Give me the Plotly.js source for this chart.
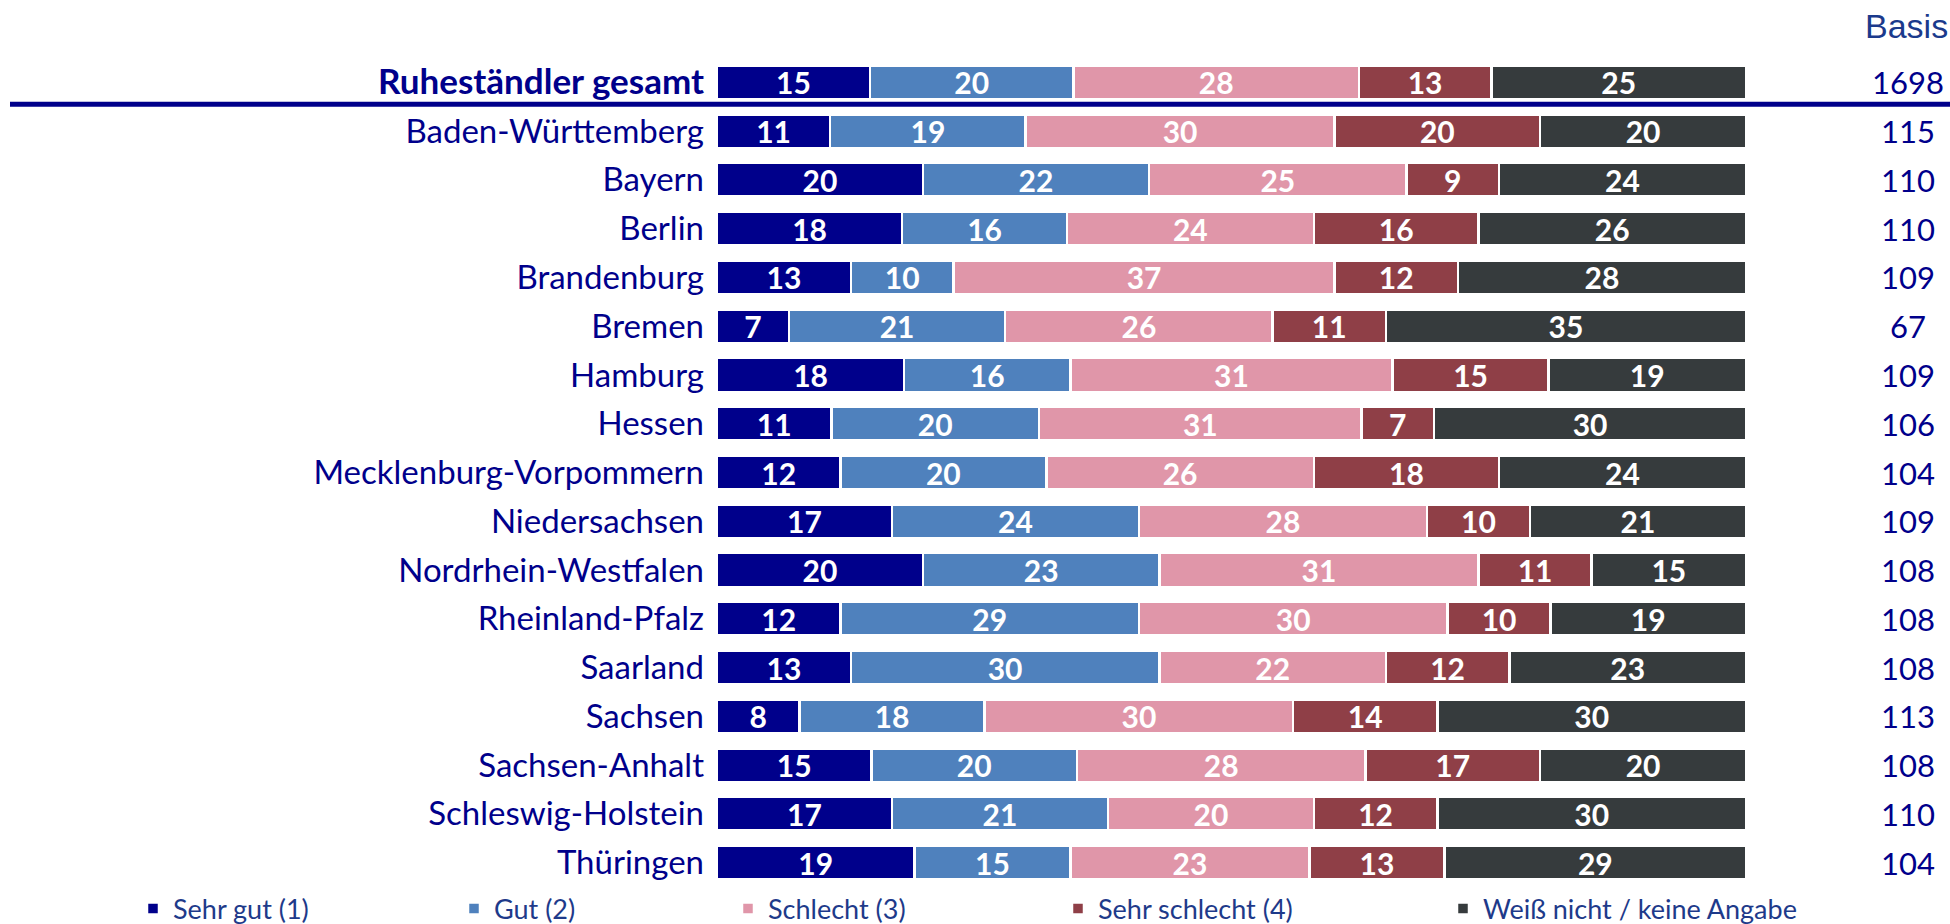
<!DOCTYPE html>
<html>
<head>
<meta charset="utf-8">
<script src="https://cdn.plot.ly/plotly-3.0.1.min.js"></script>
<style>html,body{margin:0;padding:0;background:#fff;}#chart{width:1950px;height:924px;}</style>
</head>
<body>
<div id="chart"></div>
<script>
const categories = ["Ruheständler gesamt","Baden-Württemberg","Bayern","Berlin","Brandenburg","Bremen","Hamburg","Hessen","Mecklenburg-Vorpommern","Niedersachsen","Nordrhein-Westfalen","Rheinland-Pfalz","Saarland","Sachsen","Sachsen-Anhalt","Schleswig-Holstein","Thüringen"];
const sehrGut     = [15,11,20,18,13, 7,18,11,12,17,20,12,13, 8,15,17,19];
const gut         = [20,19,22,16,10,21,16,20,20,24,23,29,30,18,20,21,15];
const schlecht    = [28,30,25,24,37,26,31,31,26,28,31,30,22,30,28,20,23];
const sehrSchlecht= [13,20, 9,16,12,11,15, 7,18,10,11,10,12,14,17,12,13];
const weissNicht  = [25,20,24,26,28,35,19,30,24,21,15,19,23,30,20,30,29];
const basis       = [1698,115,110,110,109,67,109,106,104,109,108,108,108,113,108,110,104];
const seriesNames = ["Sehr gut (1)","Gut (2)","Schlecht (3)","Sehr schlecht (4)","Weiß nicht / keine Angabe"];
const seriesColors = ["#00008B","#4F81BD","#E096A9","#8F3F47","#363B3D"];
const seriesValues = [sehrGut, gut, schlecht, sehrSchlecht, weissNicht];

const labelFont = "Lato, 'Noto Sans', sans-serif";
const navy = "#00008B";

const traces = seriesValues.map((vals, i) => ({
  type: 'bar',
  orientation: 'h',
  name: seriesNames[i],
  y: categories,
  x: vals,
  text: vals.map(String),
  texttemplate: '%{text}',
  textposition: 'inside',
  insidetextanchor: 'middle',
  textangle: 0,
  constraintext: 'none',
  insidetextfont: {family: labelFont, size: 30, color: '#ffffff', weight: 'bold'},
  marker: {color: seriesColors[i], line: {color: '#ffffff', width: 2.5}},
  legend: i === 0 ? 'legend' : 'legend' + (i + 1),
  hoverinfo: 'name+text+y'
}));

const plotL = 717, plotR = 204, W = 1950, plotT = 58, plotB = 37, H = 924;
const plotW = W - plotL - plotR;
const plotH = H - plotT - plotB;
const px2paper = px => (px - plotL) / plotW;
const py2paper = py => (H - plotB - py) / plotH;
const legendCenters = [153, 474, 748, 1078, 1463];

const layout = {
  width: W, height: H,
  margin: {l: plotL, r: plotR, t: plotT, b: plotB, pad: 0, autoexpand: false},
  paper_bgcolor: '#ffffff', plot_bgcolor: '#ffffff',
  barmode: 'stack',
  barnorm: 'percent',
  bargap: 0.31,
  showlegend: true,
  font: {family: labelFont, color: navy},
  xaxis: {range: [0, 100], visible: false, fixedrange: true},
  yaxis: {
    type: 'category',
    autorange: 'reversed',
    tickmode: 'array',
    tickvals: categories,
    ticktext: categories.map((c, i) => i === 0 ? '<span style="font-size:35px"><b>' + c + '</b></span>' : c),
    tickfont: {family: labelFont, size: 33, color: navy},
    showgrid: false, zeroline: false, showline: false,
    ticks: '', ticklabelstandoff: 12
  },
  shapes: [{
    type: 'line', xref: 'paper', yref: 'y',
    x0: px2paper(10), x1: 1.3, y0: 0.45, y1: 0.45,
    line: {color: navy, width: 5}
  }],
  annotations: basis.map((b, i) => ({
    xref: 'paper', yref: 'y', x: px2paper(1908), y: categories[i],
    text: String(b), showarrow: false, xanchor: 'center', yanchor: 'middle',
    font: {family: labelFont, size: 31, color: navy}
  })).concat([{
    xref: 'paper', yref: 'paper', x: px2paper(1906), y: py2paper(26),
    text: 'Basis', showarrow: false, xanchor: 'center', yanchor: 'middle',
    font: {family: "'Liberation Sans', Arial, sans-serif", size: 34, color: '#1B3A8C'}
  }])
};

seriesNames.forEach((n, i) => {
  const key = i === 0 ? 'legend' : 'legend' + (i + 1);
  layout[key] = {
    orientation: 'h',
    x: px2paper(legendCenters[i] - 20), xanchor: 'left',
    y: py2paper(909), yanchor: 'middle',
    bgcolor: 'rgba(0,0,0,0)', borderwidth: 0,
    font: {family: labelFont, size: 27, color: '#1E3A8A'},
    traceorder: 'normal'
  };
});

Plotly.newPlot('chart', traces, layout, {displayModeBar: false, staticPlot: true});
</script>
</body>
</html>
